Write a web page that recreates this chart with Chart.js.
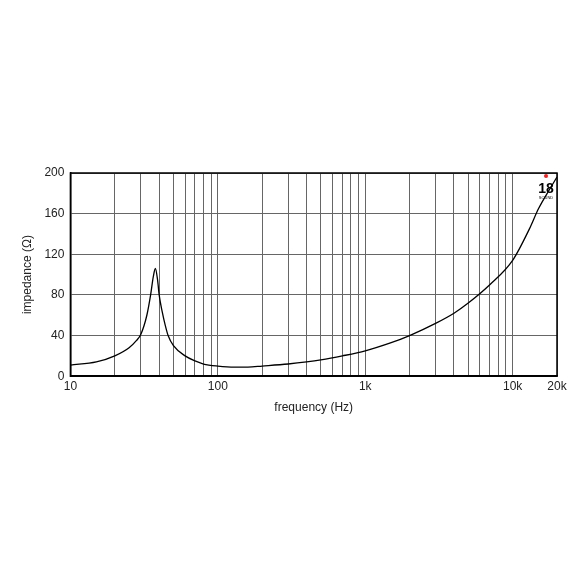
<!DOCTYPE html>
<html>
<head>
<meta charset="utf-8">
<script src="https://cdn.jsdelivr.net/npm/chart.js@4"></script>
<style>
  body { margin: 0; background: #fff; }
  #wrap { position: absolute; left: 0; top: 0; width: 570px; height: 570px; }
</style>
</head>
<body>
<div id="wrap"><canvas id="myChart"></canvas></div>
<script>
const freqs = [10, 15, 20, 25, 28, 30, 33, 35, 36.5, 37.7, 39, 40, 42, 44, 46, 50, 60, 70, 80, 100, 130, 160, 200, 300, 400, 500, 700, 1000, 1500, 2000, 3000, 4000, 5000, 7000, 10000, 13000, 15000, 18000, 20000];
const impedance = [11, 14, 20, 28, 35, 41, 60, 80, 98, 106, 95, 80, 63, 50, 40, 30, 20, 15, 12, 10, 9, 9, 10, 12, 14, 16, 20, 25, 33, 40, 52, 62, 72, 90, 114, 145, 165, 185, 196];
const yTicks = [0, 40, 80, 120, 160, 200];
const xLabels = [10, 100, 1000, 10000, 20000];

const gridFreqs = [];
[10, 100, 1000, 10000].forEach(d => {
  for (let m = 1; m <= 9; m++) if (d * m <= 20000) gridFreqs.push(d * m);
});

function fmt(v) {
  return v >= 1000 ? (v / 1000) + "k" : String(v);
}

var ctx = document.getElementById("myChart");
new Chart(ctx, {
  type: "line",
  data: {
    datasets: [{
      data: freqs.map((f, i) => ({ x: f, y: impedance[i] })),
      borderColor: "#000",
      borderWidth: 1.3,
      pointRadius: 0,
      cubicInterpolationMode: "monotone",
      fill: false,
    }],
  },
  options: {
    animation: false,
    responsive: true,
    maintainAspectRatio: false,
    layout: { padding: { left: 16, right: 13, top: 173, bottom: 151 } },
    plugins: { legend: { display: false }, tooltip: { enabled: false } },
    scales: {
      x: {
        type: "logarithmic",
        min: 10,
        max: 20000,
        afterBuildTicks: axis => { axis.ticks = gridFreqs.map(v => ({ value: v })); },
        ticks: {
          autoSkip: false,
          maxRotation: 0,
          color: "#222",
          font: { family: "Liberation Sans", size: 12 },
          callback: v => xLabels.includes(v) ? fmt(v) : "",
        },
        grid: { color: "#666", lineWidth: 1, drawTicks: false },
        border: { color: "#000", width: 1.5 },
        title: { display: true, text: "frequency (Hz)", color: "#222", font: { family: "Liberation Sans", size: 12 } },
      },
      y: {
        min: 0,
        max: 200,
        afterBuildTicks: axis => { axis.ticks = yTicks.map(v => ({ value: v })); },
        ticks: { color: "#222", font: { family: "Liberation Sans", size: 12 }, padding: 6 },
        grid: { color: "#666", lineWidth: 1, drawTicks: false },
        border: { color: "#000", width: 1.5 },
        title: { display: true, text: "impedance (Ω)", color: "#222", font: { family: "Liberation Sans", size: 12 } },
      },
    },
  },
  plugins: [{
    id: "frame",
    afterDraw(chart) {
      const a = chart.chartArea, c = chart.ctx;
      c.save();
      c.strokeStyle = "#000";
      c.lineWidth = 1.5;
      c.strokeRect(a.left, a.top, a.right - a.left, a.bottom - a.top);
      c.fillStyle = "#e22";
      c.beginPath();
      c.arc(a.right - 11, a.top + 3, 2, 0, Math.PI * 2);
      c.fill();
      c.fillStyle = "#000";
      c.font = "bold 14px 'Liberation Sans Narrow', 'Liberation Sans'";
      c.textAlign = "center";
      c.fillText("18", a.right - 11, a.top + 20);
      c.font = "4px 'Liberation Sans'";
      c.fillText("SOUND", a.right - 11, a.top + 26);
      c.restore();
    },
  }],
});
</script>
</body>
</html>
